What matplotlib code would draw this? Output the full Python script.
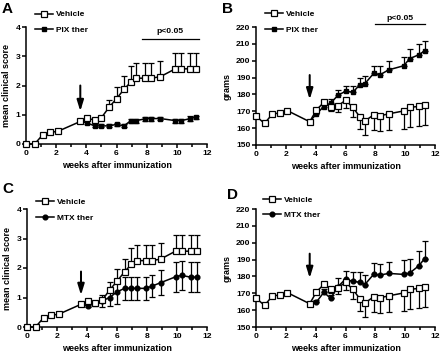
import numpy as np
import matplotlib
matplotlib.use("Agg")
import matplotlib.pyplot as plt

plt.rcParams['font.family'] = ['Liberation Sans', 'DejaVu Sans']
plt.rcParams['font.weight'] = 'bold'

# ---------------- data ----------------
weeks = [0, 0.57, 1.1, 1.6, 2.1, 3.6, 4.05, 4.55, 5.0, 5.5, 6.0, 6.5, 6.95, 7.3, 7.9, 8.3, 8.9, 9.9, 10.3, 10.9, 11.3]
weeks_ther = weeks[5:]

veh_score = [0, 0, 0.31, 0.4, 0.43, 0.77, 0.88, 0.82, 0.9, 1.25, 1.55, 1.87, 2.12, 2.25, 2.25, 2.25, 2.3, 2.57, 2.57, 2.57, 2.57]
veh_score_err = [0, 0, 0, 0, 0, 0, 0.03, 0.03, 0.05, 0.27, 0.4, 0.45, 0.56, 0.53, 0.53, 0.53, 0.55, 0.55, 0.55, 0.55, 0.55]

pix_score = [0.77, 0.72, 0.62, 0.62, 0.62, 0.67, 0.62, 0.8, 0.8, 0.86, 0.87, 0.87, 0.8, 0.8, 0.87, 0.92]
pix_score_err = [0, 0.05, 0.05, 0.05, 0.05, 0.05, 0.05, 0.07, 0.07, 0.07, 0.07, 0.05, 0.07, 0.07, 0.1, 0.05]

mtx_score = [0.77, 0.72, 0.8, 0.88, 1.0, 1.19, 1.31, 1.31, 1.31, 1.31, 1.38, 1.5, 1.7, 1.75, 1.69, 1.69]
mtx_score_err = [0, 0.05, 0.08, 0.2, 0.3, 0.42, 0.4, 0.38, 0.38, 0.39, 0.37, 0.42, 0.52, 0.5, 0.52, 0.52]

veh_weight = [167.2, 162.8, 168.4, 169.0, 170.4, 163.8, 170.8, 175.3, 172.8, 173.3, 176.5, 172.3, 166.8, 164.2, 168.0, 167.3, 168.5, 170.2, 172.3, 172.9, 174.0]
veh_weight_err = [0, 0, 0, 0, 0, 0, 1, 1.5, 2.5, 3.5, 4.5, 5.5, 7.5, 8.5, 9.2, 9, 9.5, 10.5, 11.5, 11.7, 12.2]

pix_weight = [163.8, 168.5, 172.8, 174.7, 179.6, 181.8, 181.4, 185.6, 186.4, 192.6, 191.6, 194.6, 197.0, 201.2, 203.5, 205.8]
pix_weight_err = [0, 1, 1.5, 2.5, 3, 3, 3.5, 4, 4.3, 4.5, 5, 5.2, 5.5, 5.8, 6.5, 5.8]

mtx_weight = [163.8, 164.8, 170.6, 167.0, 174.0, 178.4, 177.0, 176.6, 175.2, 181.4, 180.8, 181.8, 181.2, 182.0, 186.2, 190.5]
mtx_weight_err = [0, 1, 2, 2, 5, 5, 5.5, 6, 5.5, 6.5, 6.5, 7, 8.5, 8.5, 9, 10.5]

arrow_week = 3.6
sig_range_A = [7.7, 11.45]
sig_range_B = [8.0, 11.3]

# ---------------- style ----------------
LW = 1.1
FS_TICK = 6.1
FS_LAB = 6.5

fig = plt.figure(figsize=(4.4, 3.54), dpi=100)

def style_axes(ax, ylim, yticks):
    ax.set_xlim(0, 12)
    ax.set_ylim(*ylim)
    ax.set_xticks(range(0, 13, 2))
    ax.set_xticks(range(1, 13, 2), minor=True)
    ax.set_yticks(yticks)
    for s in ['top', 'right']:
        ax.spines[s].set_visible(False)
    for s in ['left', 'bottom']:
        ax.spines[s].set_linewidth(LW)
    ax.tick_params(which='both', direction='out', width=LW, labelsize=FS_TICK, pad=1)
    ax.tick_params(which='major', length=3)
    ax.tick_params(which='minor', length=2.2)
    for lbl in ax.get_xticklabels() + ax.get_yticklabels():
        lbl.set_fontweight('bold')
    ax.set_xlabel('weeks after immunization', fontsize=FS_LAB, fontweight='bold', labelpad=3)


def vehicle(ax, y, err, upper):
    e = [np.zeros(len(err)), err] if upper else [err, np.zeros(len(err))]
    ax.errorbar(weeks, y, yerr=e, color='black', lw=LW, elinewidth=0.9, capsize=2.5,
                capthick=0.9, marker='s', ms=4.2, mfc='white', mec='black', mew=0.9,
                clip_on=False, zorder=4, label='Vehicle')


def treat(ax, y, err, marker, label, both):
    e = err if both else [np.zeros(len(err)), err]
    ax.errorbar(weeks_ther, y, yerr=e, color='black', lw=LW, elinewidth=0.9, capsize=2.5,
                capthick=0.9, marker=marker, ms=3.4, mfc='black', mec='black',
                clip_on=False, zorder=3, label=label)


def legend(ax, x0, y0):
    h, l = ax.get_legend_handles_labels()
    handles = [hh[0] for hh in h]
    leg = ax.legend(handles, l, loc='upper left', bbox_to_anchor=(x0, y0), frameon=False,
                    fontsize=6.0, handlelength=2.2, handletextpad=0.3, labelspacing=0.9,
                    borderaxespad=0, borderpad=0)
    for t in leg.get_texts():
        t.set_fontweight('bold')


def arrow(ax, y_top, y_tip):
    ax.annotate('', xy=(arrow_week, y_tip), xytext=(arrow_week, y_top),
                arrowprops=dict(arrowstyle='-|>,head_length=0.65,head_width=0.2',
                                mutation_scale=10, color='black', lw=1.45,
                                shrinkA=0, shrinkB=0),
                zorder=5)


W, H = 440, 354
def rect(l, r, t, b):
    return [l / W, (H - b) / H, (r - l) / W, (b - t) / H]

axA = fig.add_axes(rect(26, 207, 27, 144))
axB = fig.add_axes(rect(256, 435, 27, 145))
axC = fig.add_axes(rect(27, 207, 209, 327))
axD = fig.add_axes(rect(256, 435, 209, 327))

# A
vehicle(axA, veh_score, veh_score_err, True)
treat(axA, pix_score, pix_score_err, 's', 'PIX ther', True)
style_axes(axA, (0, 4), range(0, 5))
axA.set_ylabel('mean clinical score', fontsize=FS_LAB, fontweight='bold', labelpad=3)
arrow(axA, 2.0, 1.12)
axA.plot(sig_range_A, [3.6, 3.6], color='black', lw=0.9, clip_on=False)
axA.text(np.mean(sig_range_A), 3.72, 'p<0.05', ha='center', va='bottom', fontsize=6.1, fontweight='bold')
legend(axA, 0.05, 1.14)

# B
vehicle(axB, veh_weight, veh_weight_err, False)
treat(axB, pix_weight, pix_weight_err, 's', 'PIX ther', False)
style_axes(axB, (150, 220), range(150, 221, 10))
axB.set_ylabel('grams', fontsize=FS_LAB, fontweight='bold', labelpad=3)
arrow(axB, 191.5, 177)
axB.plot(sig_range_B, [221.6, 221.6], color='black', lw=0.9, clip_on=False)
axB.text(np.mean(sig_range_B), 222.8, 'p<0.05', ha='center', va='bottom', fontsize=6.1, fontweight='bold')
legend(axB, 0.05, 1.14)

# C
vehicle(axC, veh_score, veh_score_err, True)
treat(axC, mtx_score, mtx_score_err, 'o', 'MTX ther', True)
style_axes(axC, (0, 4), range(0, 5))
axC.set_ylabel('mean clinical score', fontsize=FS_LAB, fontweight='bold', labelpad=3)
arrow(axC, 1.88, 1.08)
legend(axC, 0.05, 1.09)

# D
vehicle(axD, veh_weight, veh_weight_err, False)
treat(axD, mtx_weight, mtx_weight_err, 'o', 'MTX ther', False)
style_axes(axD, (150, 220), range(150, 221, 10))
axD.set_ylabel('grams', fontsize=FS_LAB, fontweight='bold', labelpad=3)
arrow(axD, 193.5, 179)
legend(axD, 0.04, 1.11)

for txt, x, y in [('A', 2, 2), ('B', 222, 2), ('C', 2, 182), ('D', 227, 188)]:
    fig.text(x / W, 1 - y / H, txt, fontsize=11, fontweight='bold', ha='left', va='top')

fig.savefig('out.png', dpi=100)
